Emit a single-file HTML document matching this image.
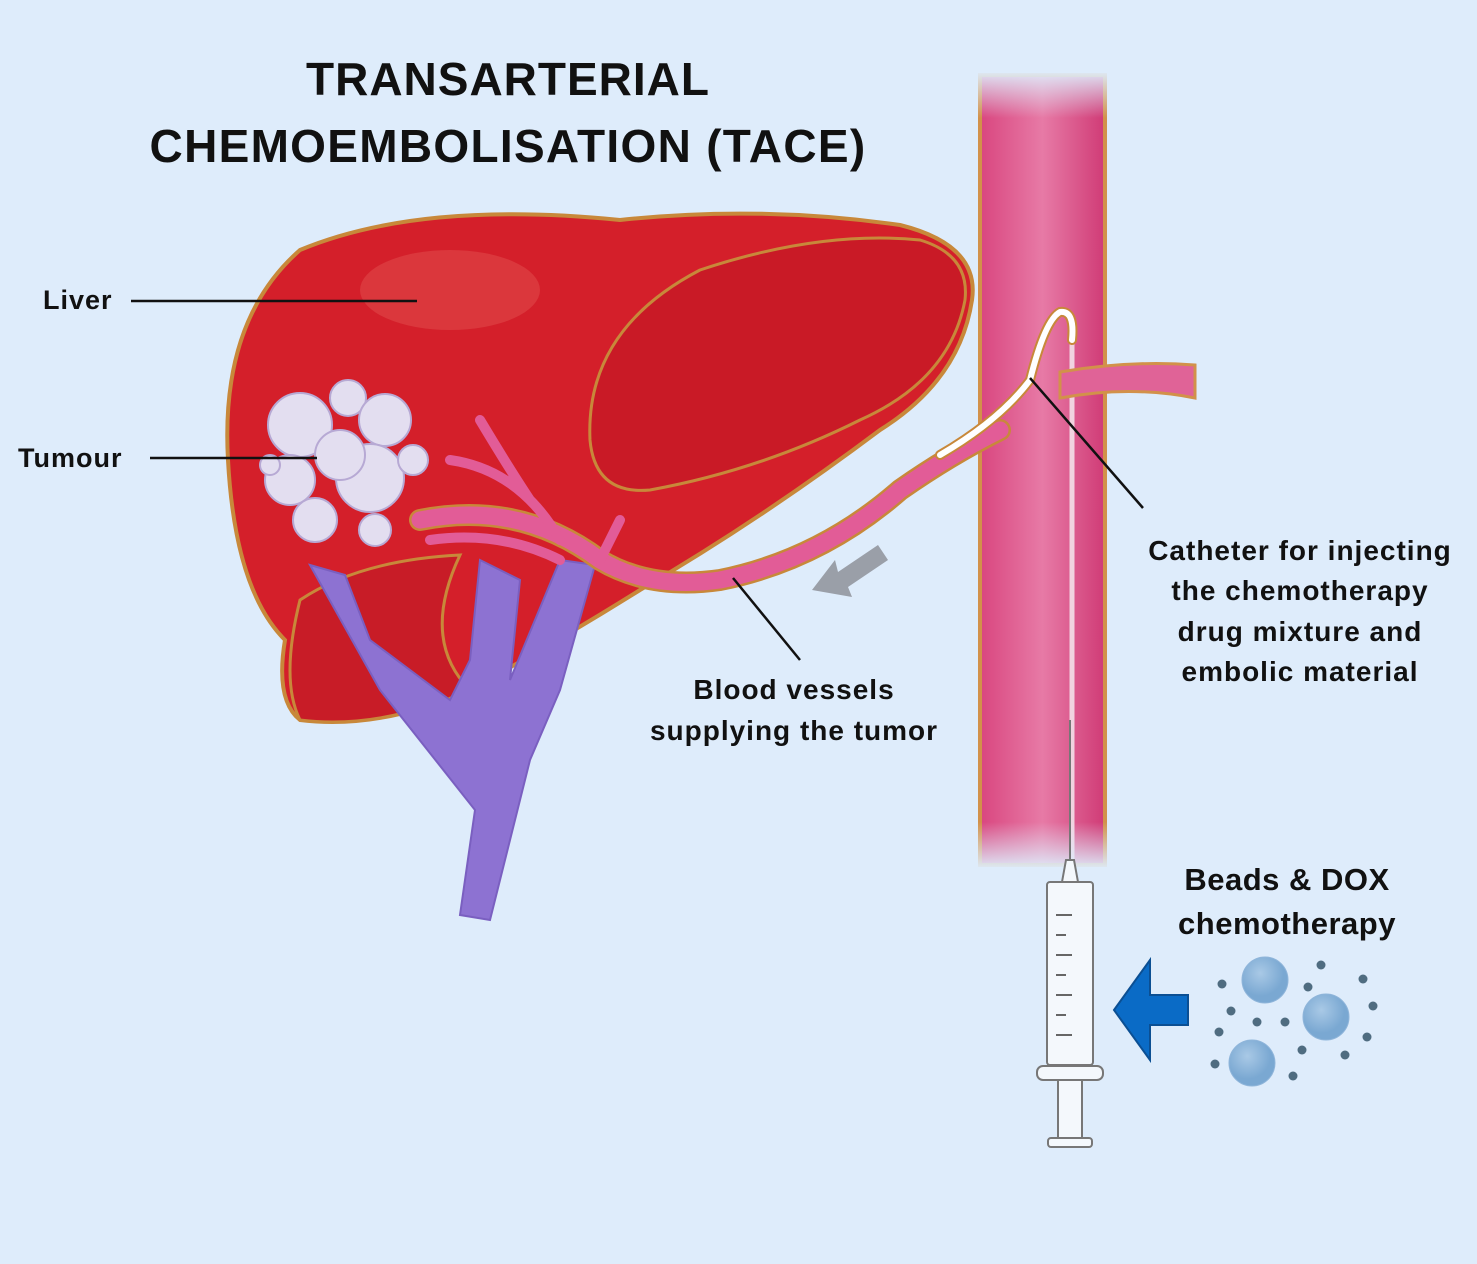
<!DOCTYPE html>
<html><head><style>
body{margin:0;background:#deecfb;}
svg{display:block;}
text{font-family:"Liberation Sans",sans-serif;font-weight:bold;fill:#111;}
</style></head><body>
<svg width="1477" height="1264" viewBox="0 0 1477 1264">
<defs>
<linearGradient id="ao" x1="0" x2="1"><stop offset="0" stop-color="#d9467f"/><stop offset="0.5" stop-color="#e77aa6"/><stop offset="1" stop-color="#d03b76"/></linearGradient>
<linearGradient id="aov" x1="0" y1="0" x2="0" y2="1"><stop offset="0" stop-color="#deecfb" stop-opacity="1"/><stop offset="0.06" stop-color="#deecfb" stop-opacity="0"/><stop offset="0.94" stop-color="#deecfb" stop-opacity="0"/><stop offset="1" stop-color="#deecfb" stop-opacity="1"/></linearGradient>
<radialGradient id="bd" cx="0.4" cy="0.35"><stop offset="0" stop-color="#a9c9e6"/><stop offset="1" stop-color="#7aa8d2"/></radialGradient>
</defs>
<rect width="1477" height="1264" fill="#deecfb"/>
<text x="508" y="95" font-size="46" text-anchor="middle" letter-spacing="1">TRANSARTERIAL</text>
<text x="508" y="162" font-size="46" text-anchor="middle" letter-spacing="1.3">CHEMOEMBOLISATION (TACE)</text>
<!-- aorta -->
<rect x="980" y="75" width="125" height="790" fill="url(#ao)" stroke="#d2914a" stroke-width="4"/>
<line x1="1072" y1="330" x2="1072" y2="860" stroke="#f1d3e0" stroke-width="5"/>
<rect x="975" y="70" width="135" height="800" fill="url(#aov)"/>
<!-- right branch -->
<path d="M1060 372 Q1130 360 1195 365 L1195 398 Q1130 385 1060 398 Z" fill="#e06397" stroke="#d2914a" stroke-width="3"/>
<!-- liver -->
<path d="M300 250 Q420 200 620 220 Q760 205 900 225 Q980 245 972 300 Q960 380 880 430 Q760 520 640 590 Q560 640 470 690 Q380 730 300 720 Q275 700 285 640 Q235 590 228 460 Q220 320 300 250 Z" fill="#d41f2a" stroke="#c8883a" stroke-width="4"/>
<path d="M590 440 Q585 330 700 270 Q820 230 920 240 Q970 255 965 300 Q950 380 860 420 Q760 470 650 490 Q595 495 590 440 Z" fill="#c91a26" stroke="#c8883a" stroke-width="3"/>
<path d="M300 600 Q360 560 460 555 Q420 640 470 690 Q380 730 300 720 Q280 680 300 600 Z" fill="#c81c27" stroke="#c8883a" stroke-width="3"/>
<ellipse cx="450" cy="290" rx="90" ry="40" fill="#e0484a" opacity="0.6"/>
<!-- purple veins -->
<path d="M310 565 L345 575 L370 640 L450 700 L470 660 L480 560 L520 580 L510 680 L560 560 L595 565 L560 690 L530 760 L490 920 L460 915 L475 810 L380 690 Z" fill="#8d72d2" stroke="#7a5fc0" stroke-width="2"/>
<!-- arteries in liver -->
<path d="M420 520 Q520 500 600 560 Q650 590 720 580 Q820 560 900 490 Q950 455 1000 430" fill="none" stroke="#c8883a" stroke-width="22" stroke-linecap="round"/>
<path d="M420 520 Q520 500 600 560 Q650 590 720 580 Q820 560 900 490 Q950 455 1000 430" fill="none" stroke="#e25c97" stroke-width="17" stroke-linecap="round"/>
<path d="M450 460 Q520 470 560 540 M480 420 Q510 470 530 500 M430 540 Q500 530 560 560 M600 560 L620 520" fill="none" stroke="#e25c97" stroke-width="10" stroke-linecap="round"/>
<!-- catheter -->
<path d="M940 455 Q1000 420 1030 380 Q1045 320 1060 312 Q1075 310 1072 340" fill="none" stroke="#c8883a" stroke-width="10" stroke-linecap="round"/>
<path d="M940 455 Q1000 420 1030 380 Q1045 320 1060 312 Q1075 310 1072 340" fill="none" stroke="#fff" stroke-width="6" stroke-linecap="round"/>
<!-- tumour -->
<g fill="#e3def0" stroke="#b7a9d4" stroke-width="2">
<circle cx="348" cy="398" r="18"/><circle cx="300" cy="425" r="32"/><circle cx="385" cy="420" r="26"/>
<circle cx="290" cy="480" r="25"/><circle cx="315" cy="520" r="22"/><circle cx="370" cy="478" r="34"/>
<circle cx="413" cy="460" r="15"/><circle cx="375" cy="530" r="16"/><circle cx="340" cy="455" r="25"/><circle cx="270" cy="465" r="10"/>
</g>
<!-- grey arrow -->
<polygon points="812,590 835,560 838,572 878,545 888,560 848,587 852,597" fill="#9a9fa8"/>
<!-- labels & leaders -->
<g font-size="27" letter-spacing="1">
<text x="43" y="309">Liver</text>
<text x="18" y="467">Tumour</text>
</g>
<line x1="131" y1="301" x2="417" y2="301" stroke="#111" stroke-width="2.5"/>
<line x1="150" y1="458" x2="317" y2="458" stroke="#111" stroke-width="2.5"/>
<line x1="733" y1="578" x2="800" y2="660" stroke="#111" stroke-width="2.5"/>
<line x1="1030" y1="378" x2="1143" y2="508" stroke="#111" stroke-width="2.5"/>
<g font-size="28" text-anchor="middle" letter-spacing="1">
<text x="794" y="699">Blood vessels</text>
<text x="794" y="740">supplying the tumor</text>
<text x="1300" y="560">Catheter for injecting</text>
<text x="1300" y="600">the chemotherapy</text>
<text x="1300" y="641">drug mixture and</text>
<text x="1300" y="681">embolic material</text>
</g>
<text x="1287" y="890" font-size="31" text-anchor="middle" letter-spacing="0.5">Beads &amp;  DOX</text>
<text x="1287" y="934" font-size="31" text-anchor="middle" letter-spacing="0.5">chemotherapy</text>
<!-- syringe -->
<g fill="#f4f8fc" stroke="#777" stroke-width="2">
<line x1="1070" y1="720" x2="1070" y2="860"/>
<path d="M1066 860 L1074 860 L1078 882 L1062 882 Z"/>
<rect x="1047" y="882" width="46" height="183" rx="3"/>
<rect x="1037" y="1066" width="66" height="14" rx="6"/>
<rect x="1058" y="1080" width="24" height="58"/>
<rect x="1048" y="1138" width="44" height="9" rx="3"/>
</g>
<g stroke="#666" stroke-width="2">
<line x1="1056" y1="915" x2="1072" y2="915"/><line x1="1056" y1="935" x2="1066" y2="935"/><line x1="1056" y1="955" x2="1072" y2="955"/><line x1="1056" y1="975" x2="1066" y2="975"/><line x1="1056" y1="995" x2="1072" y2="995"/><line x1="1056" y1="1015" x2="1066" y2="1015"/><line x1="1056" y1="1035" x2="1072" y2="1035"/>
</g>
<!-- blue arrow -->
<polygon points="1114,1010 1150,960 1150,995 1188,995 1188,1025 1150,1025 1150,1060" fill="#0a6bc6" stroke="#0b4f93" stroke-width="2"/>
<!-- beads -->
<g fill="url(#bd)" stroke="#8fb5da" stroke-width="1"><circle cx="1265" cy="980" r="23"/><circle cx="1326" cy="1017" r="23"/><circle cx="1252" cy="1063" r="23"/></g>
<g fill="#4f6c80">
<circle cx="1222" cy="984" r="4.5"/><circle cx="1321" cy="965" r="4.5"/><circle cx="1363" cy="979" r="4.5"/><circle cx="1308" cy="987" r="4.5"/>
<circle cx="1231" cy="1011" r="4.5"/><circle cx="1257" cy="1022" r="4.5"/><circle cx="1285" cy="1022" r="4.5"/><circle cx="1373" cy="1006" r="4.5"/>
<circle cx="1219" cy="1032" r="4.5"/><circle cx="1302" cy="1050" r="4.5"/><circle cx="1367" cy="1037" r="4.5"/><circle cx="1345" cy="1055" r="4.5"/>
<circle cx="1215" cy="1064" r="4.5"/><circle cx="1293" cy="1076" r="4.5"/>
</g>
</svg>
</body></html>
